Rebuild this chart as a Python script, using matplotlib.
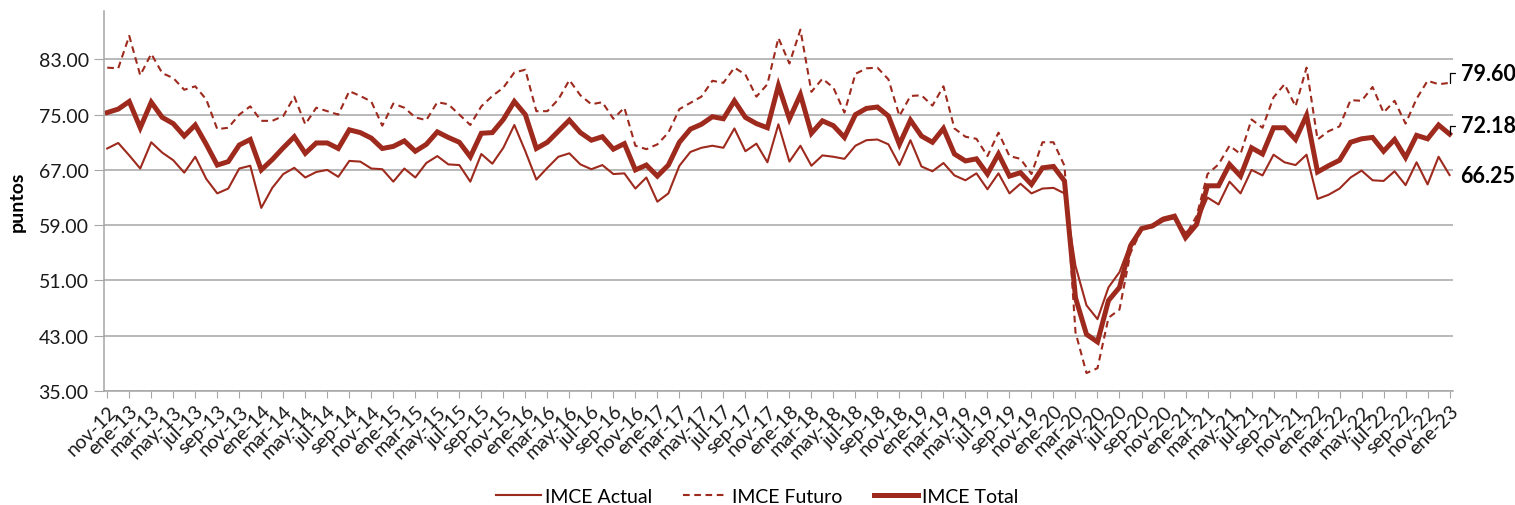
import matplotlib
matplotlib.use("Agg")
import matplotlib.pyplot as plt

# categorías: meses de nov-12 a ene-23
meses_es = ["ene", "feb", "mar", "abr", "may", "jun", "jul", "ago", "sep", "oct", "nov", "dic"]
n_meses = 123
periodos = [f"{meses_es[(10 + k) % 12]}-{(12 + (10 + k) // 12):02d}" for k in range(n_meses)]

imce_actual = [
    70.1, 70.9, 69.1, 67.2, 71.0, 69.5, 68.4, 66.6, 68.9, 65.7, 63.6, 64.3, 67.2, 67.6, 61.5, 64.4,
    66.4, 67.3, 65.9, 66.7, 67.0, 66.0, 68.3, 68.2,
    67.2, 67.1, 65.3, 67.2, 65.9, 68.0, 69.0, 67.8, 67.7, 65.3, 69.3, 67.9, 70.2, 73.5, 69.7, 65.6,
    67.3, 68.9, 69.4, 67.8, 67.1, 67.7, 66.4, 66.5, 64.3,
    65.9, 62.4, 63.6, 67.6, 69.6, 70.2, 70.5, 70.2, 73.0, 69.7, 70.8, 68.1, 73.6, 68.2, 70.5, 67.6,
    69.1, 68.9, 68.6, 70.5, 71.3, 71.4, 70.7, 67.7,
    71.3, 67.5, 66.8, 68.0, 66.2, 65.5, 66.5, 64.2, 66.5, 63.6, 65.0, 63.6, 64.3, 64.4, 63.6, 53.1,
    47.4, 45.4, 50.0, 52.2, 56.4, 58.5, 58.7, 59.6, 60.0,
    57.9, 59.3, 63.0, 62.0, 65.3, 63.6, 67.0, 66.2, 69.2, 68.1, 67.7, 69.2, 62.8, 63.4, 64.3, 65.9,
    66.9, 65.5, 65.4, 66.8, 64.8, 68.1, 64.9, 68.9, 66.25,
]

imce_futuro = [
    81.8, 81.7, 86.4, 80.7, 83.8, 81.0, 80.3, 78.6, 79.1, 77.2, 72.9, 73.1, 75.0, 76.2, 74.1, 74.1,
    74.8, 77.6, 73.6, 76.0, 75.5, 75.0, 78.4, 77.7,
    76.9, 73.4, 76.6, 76.0, 74.6, 74.2, 76.8, 76.5, 75.0, 73.5, 76.2, 77.7, 78.9, 81.1, 81.5, 75.5,
    75.5, 77.2, 80.0, 77.8, 76.5, 76.8, 74.4, 76.0, 70.5,
    70.0, 70.7, 72.4, 75.8, 76.7, 77.6, 79.9, 79.6, 81.8, 80.8, 77.6, 79.4, 86.1, 82.4, 87.3, 78.3,
    80.2, 78.9, 75.3, 80.9, 81.7, 81.8, 80.1, 74.8,
    77.7, 77.8, 76.3, 79.1, 73.0, 71.8, 71.5, 69.0, 72.4, 69.0, 68.6, 66.4, 71.0, 71.0, 67.6, 43.5,
    37.6, 38.3, 45.6, 46.8, 55.0, 58.3, 59.0, 60.2, 59.9,
    57.5, 60.3, 66.4, 67.8, 70.5, 69.3, 74.3, 73.1, 77.5, 79.4, 76.2, 81.8, 71.4, 72.6, 73.3, 77.1,
    77.0, 79.0, 75.3, 77.0, 73.7, 77.3, 79.9, 79.4, 79.60,
]

imce_total = [
    75.3, 75.8, 76.9, 73.1, 76.8, 74.6, 73.7, 71.9, 73.5, 70.7, 67.7, 68.2, 70.6, 71.4, 67.0, 68.5,
    70.2, 71.8, 69.4, 70.9, 70.9, 70.1, 72.8, 72.4,
    71.6, 70.1, 70.4, 71.2, 69.7, 70.7, 72.5, 71.7, 71.0, 68.9, 72.3, 72.4, 74.3, 76.9, 75.0, 70.1,
    71.0, 72.6, 74.2, 72.4, 71.3, 71.8, 70.0, 70.8, 67.0,
    67.7, 66.1, 67.7, 71.0, 72.9, 73.6, 74.7, 74.4, 77.0, 74.6, 73.7, 73.1, 79.2, 74.4, 77.9, 72.3,
    74.1, 73.4, 71.7, 75.0, 75.9, 76.1, 74.8, 70.7,
    74.2, 71.9, 71.0, 73.0, 69.3, 68.3, 68.6, 66.4, 69.3, 66.1, 66.6, 64.9, 67.3, 67.5, 65.4, 48.5,
    43.2, 42.1, 48.1, 50.0, 56.0, 58.5, 58.9, 59.9, 60.3,
    57.2, 59.1, 64.7, 64.7, 67.8, 66.1, 70.2, 69.3, 73.1, 73.1, 71.4, 74.9, 66.7, 67.6, 68.4, 71.0,
    71.5, 71.7, 69.7, 71.4, 68.8, 72.0, 71.5, 73.5, 72.18,
]

y_ticks = [35, 43, 51, 59, 67, 75, 83]

rojo = "#9e2a1e"
gris = "#a6a6a6"
plt.rcParams["font.family"] = ["Lato", "DejaVu Sans"]

fig = plt.figure(figsize=(15.15, 5.06), dpi=100)
ax = fig.add_axes([0.0686, 0.2253, 0.8904, 0.7510])

x = list(range(n_meses))
ax.plot(x, imce_actual, color=rojo, lw=1.5, label="IMCE Actual")
ax.plot(x, imce_futuro, color=rojo, lw=1.5, ls=(0, (3.2, 2.2)), label="IMCE Futuro")
ax.plot(x, imce_total, color=rojo, lw=3.6, label="IMCE Total", solid_joinstyle="miter")

ax.set_xlim(-0.3, n_meses - 1 + 0.3)
ax.set_ylim(35, 90)
ax.set_yticks(y_ticks)
ax.set_yticklabels([f"{v:.2f}" for v in y_ticks], fontsize=14, color="#1a1a1a")
ax.yaxis.grid(True, color=gris, lw=1.1)
ax.set_axisbelow(True)

ax.set_xticks(x[::2])
ax.set_xticklabels(periodos[::2], rotation=45, ha="right", va="top",
                   rotation_mode="anchor", fontsize=14, color="#1a1a1a")
ax.tick_params(axis="x", length=5, color=gris, pad=3)
ax.tick_params(axis="y", length=7, color=gris, pad=4)

for s in ["top", "right"]:
    ax.spines[s].set_visible(False)
ax.spines["left"].set_color(gris)
ax.spines["bottom"].set_color(gris)
ax.spines["left"].set_linewidth(1.1)
ax.spines["bottom"].set_linewidth(1.1)

ax.set_ylabel("puntos", fontsize=14, fontweight="bold", labelpad=9)

# etiquetas de los últimos valores
ult = n_meses - 1
ax.annotate(f"{imce_futuro[-1]:.2f}", xy=(ult, imce_futuro[-1]), xytext=(ult + 1.0, imce_futuro[-1] + 1.4),
            fontsize=15.5, fontweight="bold", va="center", ha="left", annotation_clip=False,
            arrowprops=dict(arrowstyle="-", color="black", lw=0.9, shrinkA=2, shrinkB=0,
                            connectionstyle="angle,angleA=0,angleB=90,rad=0"))
ax.annotate(f"{imce_total[-1]:.2f}", xy=(ult, imce_total[-1]), xytext=(ult + 1.0, imce_total[-1] + 1.2),
            fontsize=15.5, fontweight="bold", va="center", ha="left", annotation_clip=False,
            arrowprops=dict(arrowstyle="-", color="black", lw=0.9, shrinkA=2, shrinkB=0,
                            connectionstyle="angle,angleA=0,angleB=90,rad=0"))
ax.annotate(f"{imce_actual[-1]:.2f}", xy=(ult, imce_actual[-1]), xytext=(ult + 1.0, imce_actual[-1] - 0.1),
            fontsize=15.5, fontweight="bold", va="center", ha="left", annotation_clip=False)

fig.legend(loc="lower center", bbox_to_anchor=(0.5, -0.035), ncol=3, frameon=False,
           fontsize=14, handlelength=2.3, handletextpad=0.2, columnspacing=1.6)

fig.savefig("out.png", dpi=100)
